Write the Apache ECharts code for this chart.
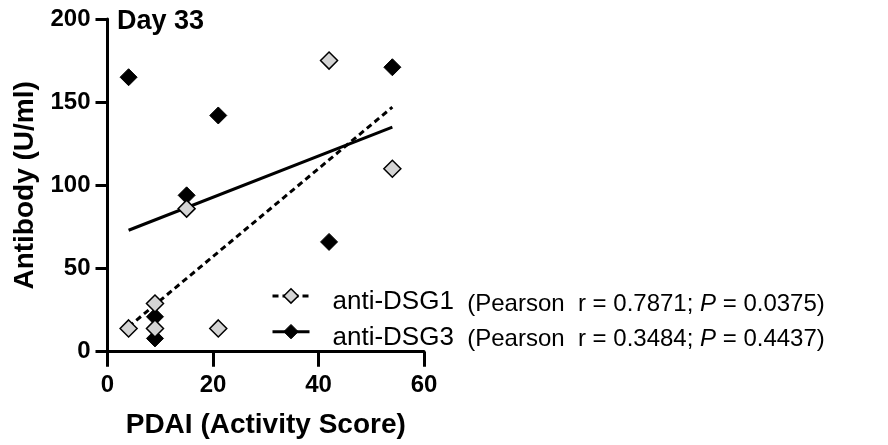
<!DOCTYPE html>
<html><head><meta charset="utf-8">
<script src="https://cdn.jsdelivr.net/npm/echarts@6/dist/echarts.min.js"></script>
<style>html,body{margin:0;padding:0;background:#fff}#c{width:888px;height:445px}</style>
</head><body><div id="c"></div>
<script>
// ---- data ----
const dsg1X = [4, 9, 9, 15, 21, 42, 54];
const dsg1Y = [14, 29, 14, 86, 14, 175, 110];
const dsg3X = [4, 9, 9, 15, 21, 42, 54];
const dsg3Y = [165, 21, 8, 94, 142, 66, 171];
const fit1X = [4, 54];
const fit1Y = [15, 147];
const fit3X = [4, 54];
const fit3Y = [73, 135];
const xTicks = [0, 20, 40, 60];
const yTicks = [0, 50, 100, 150, 200];
const seriesNames = ['anti-DSG1', 'anti-DSG3'];
const pearsonR = ['0.7871', '0.3484'];
const pearsonP = ['0.0375', '0.4437'];
const panelTitle = 'Day 33';
const xTitle = 'PDAI (Activity Score)';
const yTitle = 'Antibody (U/ml)';

const FONT = 'Liberation Sans';
const pair = (xs, ys) => xs.map((x, i) => [x, ys[i]]);

const chart = echarts.init(document.getElementById('c'), null, {renderer: 'canvas'});
chart.setOption({
  backgroundColor: '#fff',
  animation: false,
  title: {
    text: panelTitle, left: 117, top: 8, padding: 0,
    textStyle: {fontFamily: FONT, fontWeight: 'bold', fontSize: 27, color: '#000'}
  },
  grid: {left: 107.5, right: 464, top: 19, bottom: 93.3, containLabel: false},
  xAxis: {
    type: 'value', min: xTicks[0], max: xTicks[xTicks.length - 1], interval: 20,
    name: xTitle, nameLocation: 'middle', nameGap: 60,
    nameTextStyle: {fontFamily: FONT, fontWeight: 'bold', fontSize: 28, color: '#000'},
    axisLine: {show: true, onZero: false, lineStyle: {color: '#000', width: 3}},
    axisTick: {show: true, length: 15, lineStyle: {color: '#000', width: 3}},
    axisLabel: {margin: 22, fontFamily: FONT, fontWeight: 'bold', fontSize: 24, color: '#000'},
    splitLine: {show: false}
  },
  yAxis: {
    type: 'value', min: yTicks[0], max: yTicks[yTicks.length - 1], interval: 50,
    name: yTitle, nameLocation: 'middle', nameGap: 68, nameRotate: 90,
    nameTextStyle: {fontFamily: FONT, fontWeight: 'bold', fontSize: 28, color: '#000'},
    axisLine: {show: true, onZero: false, lineStyle: {color: '#000', width: 3}},
    axisTick: {show: true, length: 12, lineStyle: {color: '#000', width: 3}},
    axisLabel: {margin: 17, fontFamily: FONT, fontWeight: 'bold', fontSize: 24, color: '#000'},
    splitLine: {show: false}
  },
  legend: {
    show: true, orient: 'vertical', left: 271, top: 288, padding: 0,
    itemWidth: 37, itemHeight: 18, itemGap: 8,
    selectedMode: false,
    data: [
      {name: seriesNames[0], lineStyle: {type: [6, 4], width: 3, color: '#000'},
       itemStyle: {color: '#d4d4d4', borderColor: '#000', borderWidth: 1.5}},
      {name: seriesNames[1], lineStyle: {type: 'solid', width: 3, color: '#000'},
       itemStyle: {color: '#000', borderColor: '#000', borderWidth: 1}}
    ],
    formatter: function (name) {
      const i = seriesNames.indexOf(name);
      return '{n|' + name + '}{s|  (Pearson  r = ' + pearsonR[i] + '; }{i|P}{s| = ' + pearsonP[i] + ')}';
    },
    textStyle: {
      fontFamily: FONT, fontSize: 26, color: '#000', padding: [12, 0, 0, 18],
      rich: {
        n: {fontFamily: FONT, fontSize: 26, color: '#000', verticalAlign: 'bottom'},
        s: {fontFamily: FONT, fontSize: 24, color: '#000', verticalAlign: 'bottom', padding: [0, 0, -1, 0]},
        i: {fontFamily: FONT, fontSize: 24, color: '#000', fontStyle: 'italic', verticalAlign: 'bottom', padding: [0, 0, -1, 0]}
      }
    }
  },
  series: [
    {
      name: seriesNames[0], type: 'line', data: pair(fit1X, fit1Y),
      symbol: 'diamond', symbolSize: 16, showSymbol: false, z: 2, silent: true,
      lineStyle: {color: '#000', width: 3, type: [6, 4]},
      itemStyle: {color: '#d4d4d4', borderColor: '#000', borderWidth: 1.5}
    },
    {
      name: seriesNames[1], type: 'line', data: pair(fit3X, fit3Y),
      symbol: 'diamond', symbolSize: 16, showSymbol: false, z: 2, silent: true,
      lineStyle: {color: '#000', width: 3, type: 'solid'},
      itemStyle: {color: '#000', borderColor: '#000', borderWidth: 1}
    },
    {
      name: seriesNames[1] + ' points', type: 'scatter', data: pair(dsg3X, dsg3Y),
      symbol: 'diamond', symbolSize: 17, z: 3,
      itemStyle: {color: '#000', borderColor: '#000', borderWidth: 1, opacity: 1}
    },
    {
      name: seriesNames[0] + ' points', type: 'scatter', data: pair(dsg1X, dsg1Y),
      symbol: 'diamond', symbolSize: 17, z: 4,
      itemStyle: {color: '#d4d4d4', borderColor: '#000', borderWidth: 1.5, opacity: 1}
    }
  ]
});
</script>
</body></html>
